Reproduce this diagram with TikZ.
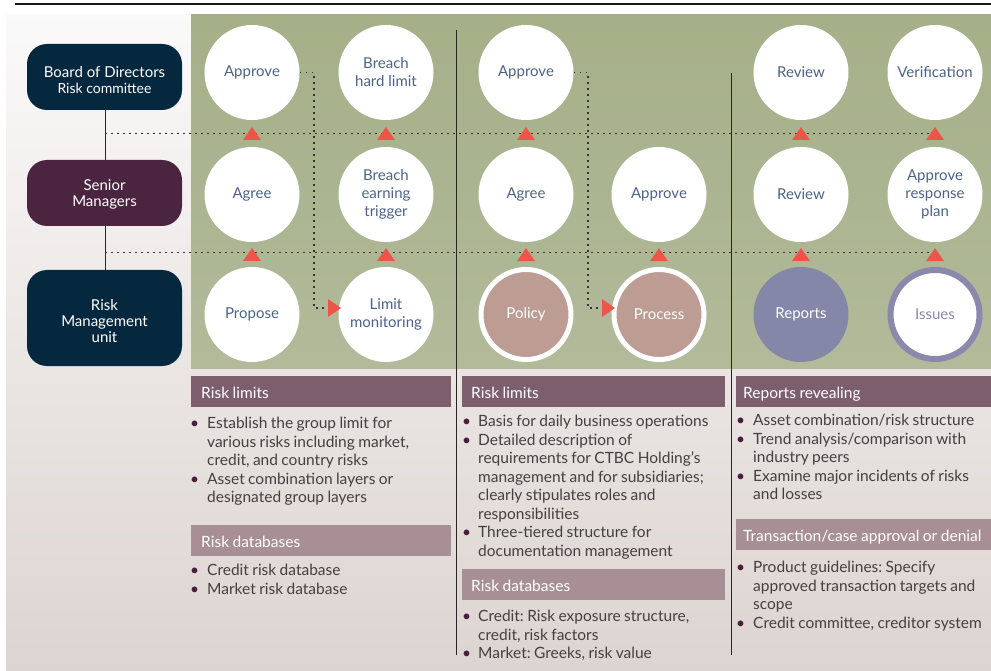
\documentclass[tikz,border=0pt]{standalone}
\usepackage{fontspec}
\setmainfont{Lato}
\usetikzlibrary{calc}
\pgfdeclarelayer{back}
\pgfdeclarelayer{mid}
\pgfsetlayers{back,mid,main}
\definecolor{greentop}{HTML}{A5AF88}
\definecolor{greenbot}{HTML}{B2BA9A}
\definecolor{navy}{HTML}{06283F}
\definecolor{plum}{HTML}{4B2540}
\definecolor{hdrdark}{HTML}{7C5E6D}
\definecolor{hdrlight}{HTML}{A88F96}
\definecolor{circtext}{HTML}{4D6386}
\definecolor{tricol}{HTML}{EC5548}
\definecolor{policyc}{HTML}{BD9C94}
\definecolor{reportsc}{HTML}{8587A8}
\definecolor{issuesc}{HTML}{8A88AB}
\definecolor{bodytext}{HTML}{444040}
\definecolor{bulc}{HTML}{4A1F3D}
\definecolor{bgtop}{HTML}{FBFAFA}
\definecolor{bgbot}{HTML}{DCD4D0}
\newcommand{\bul}[1]{\makebox[#1][l]{\textcolor{bulc}{\textbullet}}}
\newcommand{\itm}[2]{\par\hangindent=#1\hangafter=1\noindent\strut\bul{#1}#2}
\newcommand{\lsetup}{\parindent=0pt\rightskip=0pt plus 1fil\frenchspacing\spaceskip=0.22em plus 0.05em minus 0.02em\relax}
\newcommand{\hdrfont}{\fontsize{15.5}{18}\selectfont\frenchspacing\spaceskip=0.23em\relax}
\begin{document}
\begin{tikzpicture}[x=1pt,y=-1pt,
  circ/.style={circle,fill=white,minimum size=95pt,inner sep=0pt,text=circtext,align=center,font=\fontsize{15}{18}\selectfont},
  ringcirc/.style={circle,minimum size=90pt,inner sep=0pt,line width=5pt,align=center,font=\fontsize{15}{18}\selectfont},
  leftbox/.style={rounded corners=20pt,minimum width=155pt,text=white,align=center,inner sep=0pt,font=\fontsize{15}{16}\selectfont},
  hdrtext/.style={anchor=base west,text=white,inner sep=0pt,font=\hdrfont},
  listtext/.style={anchor=north west,inner sep=0pt,text width=290pt,text=bodytext,font=\fontsize{15.5}{18.5}\selectfont},
  dotline/.style={line width=1.6pt,dash pattern=on 1.6pt off 4.4pt,draw=black!80},
  solidline/.style={line width=1pt,draw=black!85},
  tri/.style={fill=tricol}
]
\useasboundingbox (0,0) rectangle (991,671);
\begin{pgfonlayer}{back}
% background
\shade[top color=bgtop,bottom color=bgbot] (6,10) rectangle (991,671);
\fill[white] (0,0) rectangle (991,14);
\draw[line width=1.3pt,draw=black!90] (15,4) -- (991,4);
% green panel
\shade[top color=greentop,bottom color=greenbot] (191,15) rectangle (991,368);
\end{pgfonlayer}
% separators
\coordinate (s1t) at (456,30); \coordinate (s1b) at (456,655);
\coordinate (s2t) at (731,73); \coordinate (s2b) at (731,655);
\draw[solidline] (s1t) -- (s1b);
\draw[solidline] (s2t) -- (s2b);
% left boxes
\node[leftbox,fill=navy,minimum height=66pt] (board) at (104.5,77) {\rule{0pt}{17pt}Board of Directors\\{\fontsize{14}{16}\selectfont Risk committee}};
\node[leftbox,fill=plum,minimum height=66pt] (senior) at (104.5,193) {\rule{0pt}{13pt}Senior\\Managers};
\node[leftbox,fill=navy,minimum height=96pt] (rmu) at (104.5,318) {\rule{0pt}{17pt}Risk\\Management\\unit};
% board-rmu connector (behind boxes)
\begin{pgfonlayer}{mid}
\draw[solidline] (board.south -| 105,0) -- (rmu.north -| 105,0);
\end{pgfonlayer}
% dotted lines
\coordinate (d1s) at (105,133.5); \coordinate (d1e) at (935,133.5);
\coordinate (d2s) at (105,252.5); \coordinate (d2e) at (935,252.5);
\draw[dotline] (d1s) -- (d1e);
\draw[dotline] (d2s) -- (d2e);
% circles
\node[circ] (c11) at (252,72.5) {Approve};
\node[circ] (c12) at (252,194.5) {Agree};
\node[circ] (c13) at (252,314.5) {Propose};
\node[circ] (c21) at (386,72.5) {Breach\\hard limit};
\node[circ] (c22) at (386,194.5) {Breach\\earning\\trigger};
\node[circ] (c23) at (386,314.5) {Limit\\monitoring};
\node[circ] (c31) at (526,72.5) {Approve};
\node[circ] (c32) at (526,194.5) {Agree};
\node[ringcirc,fill=policyc,draw=white,text=white] (c33) at (526,314.5) {Policy};
\node[circ] (c42) at (659,194.5) {Approve};
\node[ringcirc,fill=policyc,draw=white,text=white] (c43) at (659,314.5) {Process};
\node[circ] (c51) at (801,72.5) {Review};
\node[circ] (c52) at (801,194.5) {Review};
\node[circ,fill=reportsc,text=white] (c53) at (801,314.5) {Reports};
\node[circ] (c61) at (935,72.5) {Verification};
\node[circ] (c62) at (935,194.5) {Approve\\response\\plan};
\node[ringcirc,fill=white,draw=issuesc,line width=6pt,minimum size=89pt,text=issuesc] (c63) at (935,314.5) {Issues};
% elbow dotted connectors
\coordinate (e1) at (314,308); \coordinate (e1t) at (328,308);
\coordinate (e2) at (588,308); \coordinate (e2t) at (602,308);
\draw[dotline] (c11.east) -| (e1) -- (e1t);
\draw[dotline] (c31.east) -| (e2) -- (e2t);
\fill[tri] (e1t) ++(0,-9) -- ++(13,9) -- ++(-13,9) -- cycle;
\fill[tri] (e2t) ++(0,-9) -- ++(13,9) -- ++(-13,9) -- cycle;
% up triangles
\foreach \a/\b in {c11/c12,c12/c13,c21/c22,c22/c23,c31/c32,c32/c33,c42/c43,c51/c52,c52/c53,c61/c62,c62/c63}{
  \fill[tri] ($(\a.south)!0.5!(\b.north)$) ++(-9,6.5) -- ++(18,0) -- ++(-9,-13) -- cycle;
}
% headers
\node[fill=hdrdark,minimum width=260pt,minimum height=31pt,inner sep=0pt,anchor=north west] (h11) at (191,376) {};
\node[fill=hdrlight,minimum width=260pt,minimum height=31pt,inner sep=0pt,anchor=north west] (h12) at (191,525) {};
\node[fill=hdrdark,minimum width=263pt,minimum height=31pt,inner sep=0pt,anchor=north west] (h21) at (462,376) {};
\node[fill=hdrlight,minimum width=263pt,minimum height=31pt,inner sep=0pt,anchor=north west] (h22) at (462,569) {};
\node[fill=hdrdark,minimum width=255pt,minimum height=31pt,inner sep=0pt,anchor=north west] (h31) at (736,376) {};
\node[fill=hdrlight,minimum width=255pt,minimum height=31pt,inner sep=0pt,anchor=north west] (h32) at (736,519) {};
\node[hdrtext] (t11) at (201,398) {Risk limits};
\node[hdrtext] (t12) at (201,547.5) {Risk databases};
\node[hdrtext] (t21) at (471,398) {Risk limits};
\node[hdrtext] (t22) at (471,591.5) {Risk databases};
\node[hdrtext] (t31) at (743,398) {Reports revealing};
\node[hdrtext] (t32) at (743,541.5) {Transaction/case approval or denial};
% lists
\node[listtext] (l11) at (190,410) {\lsetup
\itm{17pt}{Establish the group limit for\newline various risks including market,\newline credit, and country risks}
\itm{17pt}{Asset combination layers or\newline designated group layers}\par};
\node[listtext] (l12) at (190,557) {\lsetup
\itm{17pt}{Credit risk database}
\itm{17pt}{Market risk database}\par};
\node[listtext] (l21) at (462,408) {\lsetup
\itm{16pt}{Basis for daily business operations}
\itm{16pt}{Detailed description of\newline requirements for CTBC Holding's\newline management and for subsidiaries;\newline clearly stipulates roles and\newline responsibilities}
\itm{16pt}{Three-tiered structure for\newline documentation management}\par};
\node[listtext] (l22) at (462,603) {\lsetup
\itm{16pt}{Credit: Risk exposure structure,\newline credit, risk factors}
\itm{16pt}{Market: Greeks, risk value}\par};
\node[listtext] (l31) at (736,407) {\lsetup
\itm{17pt}{Asset combination/risk structure}
\itm{17pt}{Trend analysis/comparison with\newline industry peers}
\itm{17pt}{Examine major incidents of risks\newline and losses}\par};
\node[listtext] (l32) at (736,554) {\lsetup
\itm{17pt}{Product guidelines: Specify\newline approved transaction targets and\newline scope}
\itm{17pt}{Credit committee, creditor system}\par};
\end{tikzpicture}
\end{document}
